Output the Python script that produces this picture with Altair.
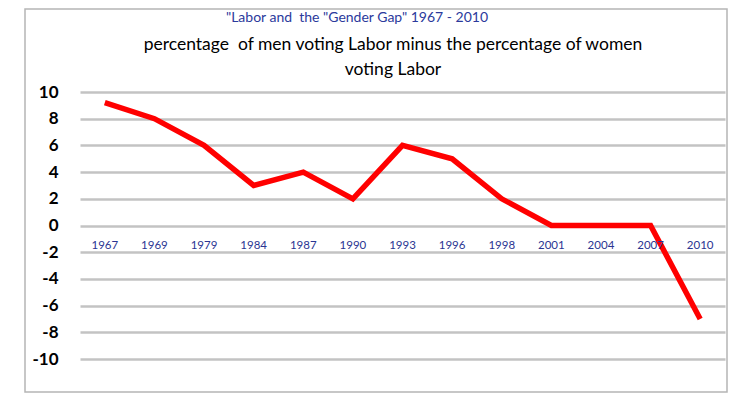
import altair as alt
import pandas as pd

years = ["1967", "1969", "1979", "1984", "1987", "1990", "1993", "1996", "1998", "2001", "2004", "2007", "2010"]
gap = [9.2, 8, 6, 3, 4, 2, 6, 5, 2, 0, 0, 0, -7]
y_ticks = list(range(-10, 11, 2))

title_main = '"Labor and \u00a0the "Gender Gap" 1967 - 2010'
subtitle_1 = "percentage \u00a0of men voting Labor minus the percentage of women"
subtitle_2 = "voting Labor"

df = pd.DataFrame({"year": years, "gap": gap})

FONT = "Lato"
W, H = 645, 267

xscale = alt.Scale(type="point", domain=years, padding=0.5)
yscale = alt.Scale(domain=[-10, 10], nice=False, zero=False)
yaxis = alt.Axis(values=y_ticks, title=None, grid=True, gridColor="#c3c3c3", gridWidth=2.5,
                 domain=False, ticks=False, labelPadding=22, labelFontSize=17,
                 labelOverlap=False, labelExpr="'' + datum.value",
                 labelColor="#000000", labelFont=FONT, labelFontWeight="bold")

base = alt.Chart(df)

line = base.mark_line(color="#ff0000", strokeWidth=5.5, strokeJoin="miter").encode(
    x=alt.X("year:N", scale=xscale, axis=None, sort=years),
    y=alt.Y("gap:Q", scale=yscale, axis=yaxis),
)

xlabels = base.mark_text(font=FONT, fontSize=11.5, color="#2a3592", baseline="middle").encode(
    x=alt.X("year:N", scale=xscale, sort=years, axis=None),
    y=alt.YDatum(-1.5, axis=yaxis, scale=yscale),
    text="year:N",
)

border = alt.Chart(pd.DataFrame({"a": [0]})).mark_rect(
    fill="transparent", stroke="#b5b5b5", strokeWidth=1.5, clip=False
).encode(x=alt.value(-55), x2=alt.value(647), y=alt.value(-83), y2=alt.value(300))

def text_line(t, x, y, size, color):
    return alt.Chart(pd.DataFrame({"t": [t]})).mark_text(
        font=FONT, fontSize=size, color=color, baseline="middle", align="center"
    ).encode(x=alt.value(x), y=alt.value(y), text="t:N")

main_title = text_line(title_main, 277, -74, 14, "#2b3a9c")
sub1 = text_line(subtitle_1, 313, -47, 17.5, "#000000")
sub2 = text_line(subtitle_2, 313, -22, 17.5, "#000000")

chart = alt.layer(line, xlabels, border, main_title, sub1, sub2).properties(
    width=W, height=H,
    autosize=alt.AutoSizeParams(type="none"),
    padding={"left": 72, "top": 84, "right": 20, "bottom": 40},
).configure(background="white", view=alt.ViewConfig(strokeWidth=0))

chart.save("out.html", embed_options={"renderer": "svg", "actions": False})
